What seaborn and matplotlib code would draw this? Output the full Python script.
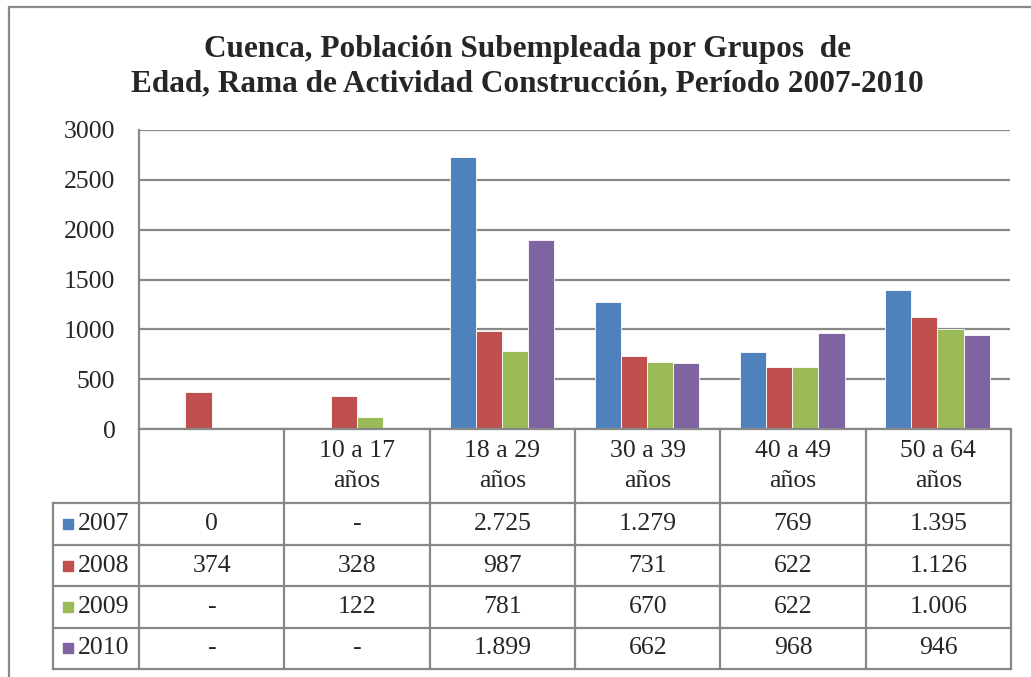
import numpy as np
import pandas as pd
import seaborn as sns
import matplotlib.pyplot as plt
from matplotlib.patches import Rectangle

groups = ["", "10 a 17\naños", "18 a 29\naños", "30 a 39\naños", "40 a 49\naños", "50 a 64\naños"]
years = ["2007", "2008", "2009", "2010"]
v2007 = [0, np.nan, 2725, 1279, 769, 1395]
v2008 = [374, 328, 987, 731, 622, 1126]
v2009 = [np.nan, 122, 781, 670, 622, 1006]
v2010 = [np.nan, np.nan, 1899, 662, 968, 946]
colors = ["#4F81BD", "#C0504D", "#9BBB59", "#8064A2"]

series = [v2007, v2008, v2009, v2010]
keys = [f"g{i}" for i in range(len(groups))]
rows = []
for year, vals in zip(years, series):
    for k, v in zip(keys, vals):
        rows.append({"grupo": k, "anio": year, "valor": v})
df = pd.DataFrame(rows)


def fmt(v):
    if np.isnan(v):
        return "-"
    return f"{v:,.0f}".replace(",", ".")


sns.set_theme(style="white")
plt.rcParams["font.family"] = ["Liberation Serif", "DejaVu Serif"]
grid_c = "#888888"
fs = 18.5

W, H = 1031, 677
fig = plt.figure(figsize=(W / 100, H / 100), dpi=100)
fig.patches.append(Rectangle((9 / W, -0.05), 1.2, (H - 7) / H + 0.05, transform=fig.transFigure,
                             fill=False, edgecolor=grid_c, linewidth=1.6))

ax = fig.add_axes([139 / W, (H - 429) / H, (1010 - 139) / W, (429 - 130) / H])
sns.barplot(data=df, x="grupo", y="valor", hue="anio", order=keys, hue_order=years,
            palette=colors, width=0.72, saturation=1, edgecolor="white", linewidth=0.6,
            legend=False, ax=ax)
ax.set_ylim(0, 3000)
ax.set_xlim(-0.5, len(groups) - 0.5)
ax.set_yticks(range(0, 3001, 500))
ax.yaxis.grid(True, color=grid_c, linewidth=1.6)
ax.set_axisbelow(True)
ax.set_xticks([])
ax.set_xlabel("")
ax.set_ylabel("")
ax.tick_params(axis="y", length=0, pad=17, labelsize=fs)
for s in ["top", "right"]:
    ax.spines[s].set_visible(False)
for s in ["left", "bottom"]:
    ax.spines[s].set_color(grid_c)
    ax.spines[s].set_linewidth(1.6)

# data table below the plot
x_left = -0.5 - (139 - 53) / 145
head = 1.8
nrow = len(years)
tab = fig.add_axes([53 / W, (H - 669) / H, (1011 - 53) / W, (669 - 429) / H])
tab.set_xlim(x_left, len(groups) - 0.5)
tab.set_ylim(head + nrow, 0)
tab.axis("off")
lk = dict(color=grid_c, linewidth=1.6, clip_on=False, solid_capstyle="projecting")
for i in range(len(groups) + 1):
    tab.plot([i - 0.5, i - 0.5], [0, head + nrow], **lk)
tab.plot([x_left, x_left], [head, head + nrow], **lk)
for r in range(nrow + 1):
    tab.plot([x_left, len(groups) - 0.5], [head + r, head + r], **lk)

for i, g in enumerate(groups):
    tab.text(i, head / 2, g, ha="center", va="center", fontsize=fs, linespacing=1.45)
for r, (year, vals, c) in enumerate(zip(years, series, colors)):
    yc = head + r + 0.5
    tab.scatter([x_left + 0.1], [yc], marker="s", s=60, color=c, clip_on=False)
    tab.text(x_left + 0.17, yc, year, ha="left", va="center", fontsize=fs)
    for i, v in enumerate(vals):
        tab.text(i, yc, fmt(v), ha="center", va="center", fontsize=fs)

fig.text(527 / W, (H - 67) / H,
         "Cuenca, Población Subempleada por Grupos  de\nEdad, Rama de Actividad Construcción, Período 2007-2010",
         ha="center", va="center", fontsize=22.5, fontweight="bold", linespacing=1.25)

fig.savefig("out.png", dpi=100)
